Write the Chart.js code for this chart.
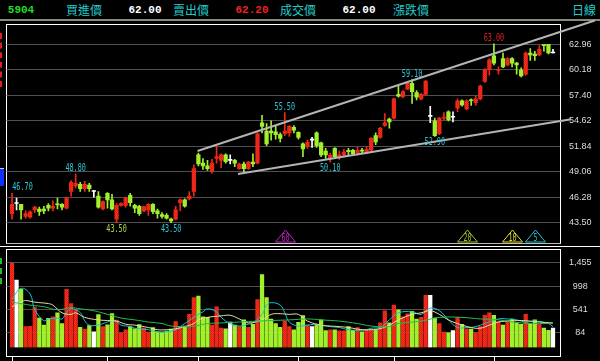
<!DOCTYPE html>
<html>
<head>
<meta charset="utf-8">
<script src="https://cdn.jsdelivr.net/npm/chart.js@4.4.1/dist/chart.umd.min.js"></script>
<style>
body{margin:0;background:#000;width:600px;height:361px;overflow:hidden;position:relative;font-family:"Noto Sans CJK TC",sans-serif}
canvas{position:absolute;left:0;top:0}
.hd{position:absolute;top:0;left:0;width:600px;height:19px;border-bottom:2px solid #8c8878}
.t{position:absolute;top:10px;transform:translate(-50%,-50%);font-size:12px;white-space:nowrap;line-height:1;color:#22cccc}
.n{font-family:"Liberation Mono",monospace;font-size:11px;font-weight:bold;color:#fff}
.box{position:absolute;border:1px solid #fff}
.ln{position:absolute}
</style>
</head>
<body>
<div class="hd"></div>
<span class="t n" style="left:21px;color:#22dd22">5904</span>
<span class="t" style="left:84px">買進價</span>
<span class="t n" style="left:145px">62.00</span>
<span class="t" style="left:191px">賣出價</span>
<span class="t n" style="left:252px;color:#ee2222">62.20</span>
<span class="t" style="left:298px">成交價</span>
<span class="t n" style="left:359px">62.00</span>
<span class="t" style="left:411px">漲跌價</span>
<span class="t" style="left:584px">日線</span>

<div class="box" style="left:6px;top:24px;width:553px;height:218px;border-bottom-color:#bbb"></div>
<div class="ln" style="left:0;top:246px;width:600px;height:1px;background:#fff"></div>
<div class="box" style="left:6px;top:249px;width:553px;height:106px"></div>
<div class="ln" style="left:0;top:33px;height:54px;border-left:2px dashed #e02020"></div>
<div class="ln" style="left:0;top:168px;width:4px;height:17px;background:#1030ff;border-top:1px solid #ccc"></div>
<div class="ln" style="left:0;top:258px;height:26px;border-left:2px dashed #20c020"></div>

<canvas id="price" width="600" height="361"></canvas>
<canvas id="vol" width="600" height="361"></canvas>
<script>
// daily candles
var opens = [44.5,45.6,45.5,44.2,44.1,44.9,45.0,45.0,45.4,45.1, 45.55,45.5,45.1,46.9,47.5,47.7,47.2,47.6,46.9,46.4,
  45.0,46.7,46.0,43.9,45.4,45.4,46.5,45.4,45.3,44.8, 44.9,45.5,44.8,44.4,44.3,43.9,43.9,45.7,46.0,46.1,
  46.9,50.9,50.0,49.7,49.1,50.5,50.3,50.9,50.3,50.3, 49.4,49.9,49.4,50.1,50.0,54.4,53.5,53.5,53.4,53.1,
  53.2,53.3,53.9,53.35,52.1,51.9,52.5,53.3,52.2,51.3, 50.5,51.6,50.6,50.9,51.4,51.4,51.15,51.4,51.2,51.4,
  53.0,52.8,54.1,54.8,54.9,57.5,57.25,58.05,58.7,57.7, 57.0,57.5,55.1,54.6,53.2,54.9,55.6,55.0,56.0,56.8,
  55.9,56.9,56.6,57.0,58.9,60.2,61.7,60.1,61.4,60.7, 61.4,60.9,60.15,59.7,62.0,61.9,61.8,62.9,62.95,62.0];
var highs = [46.7,46.2,45.5,44.8,44.8,45.3,45.2,45.3,45.6,45.9, 46.2,45.6,46.3,48.1,48.8,47.9,48.0,47.8,47.0,46.9,
  45.9,46.8,46.6,45.6,45.7,46.3,46.7,45.5,45.4,45.3, 45.6,45.6,45.0,44.6,44.5,44.0,45.3,46.1,46.1,46.9,
  49.8,51.1,50.5,50.3,50.4,51.9,51.0,51.0,50.9,50.4, 50.0,50.1,50.2,51.0,53.3,55.2,54.3,54.6,54.1,53.3,
  55.5,54.1,54.1,53.4,52.2,52.5,52.8,53.4,52.3,51.6, 51.1,51.7,51.3,51.5,51.6,51.5,51.8,51.6,51.8,52.8,
  53.3,53.9,55.4,54.9,57.1,58.4,57.9,58.8,59.1,57.9, 57.6,59.0,56.2,54.9,55.0,55.5,55.7,55.6,57.0,56.9,
  56.9,57.0,57.3,58.5,60.3,61.4,63.0,60.5,62.0,61.5, 61.5,61.0,60.4,62.1,62.5,62.2,62.8,62.9,62.96,62.4];
var lows = [43.9,44.9,43.9,44.0,44.0,44.6,44.3,44.5,44.8,44.8, 45.0,44.9,45.0,46.4,47.3,46.9,46.9,46.9,46.3,45.1,
  44.9,45.1,44.9,43.5,45.3,45.2,45.3,44.6,44.3,44.7, 44.3,44.5,44.0,44.0,43.9,43.5,43.8,44.8,45.2,46.0,
  46.4,49.7,49.3,49.2,48.9,50.0,49.5,50.0,49.9,49.6, 49.3,49.0,49.3,49.6,49.9,53.3,51.9,52.5,52.6,52.3,
  53.0,52.9,53.3,52.6,50.7,51.6,51.7,51.7,50.7,50.5, 50.1,50.5,50.4,50.7,50.9,50.8,50.9,51.0,51.0,51.3,
  52.0,52.7,54.0,53.8,54.8,57.2,57.1,58.0,56.5,56.9, 56.9,57.4,54.4,52.9,53.1,54.7,54.6,54.5,55.6,56.2,
  55.8,56.3,56.3,56.9,58.8,59.6,60.7,59.7,60.4,60.6, 60.5,59.7,59.4,59.6,61.2,61.2,61.7,62.2,61.9,62.0];
var closes = [45.5,45.6,44.9,44.5,44.7,45.2,44.7,44.8,45.1,45.3, 45.45,45.2,46.2,47.9,47.8,47.2,47.7,47.2,46.9,45.2,
  45.8,46.0,45.0,45.4,45.6,46.2,45.7,45.1,44.5,45.25, 45.5,44.7,44.5,44.2,44.0,43.7,44.9,46.0,45.3,46.4,
  49.4,49.9,49.7,49.4,50.0,50.7,50.9,50.15,50.3,50.0, 49.9,49.4,50.1,49.9,53.2,54.0,52.1,53.3,53.1,52.7,
  53.5,54.0,53.6,52.8,51.55,52.3,52.5,51.9,50.9,50.9, 50.85,50.7,50.9,51.2,51.25,51.0,51.4,51.3,51.5,52.7,
  52.3,53.8,54.4,54.5,57.0,57.3,57.8,58.7,57.8,57.2, 57.5,58.95,55.1,53.0,54.9,55.0,54.7,55.0,56.8,56.35,
  56.8,56.8,57.0,58.4,60.2,61.25,60.9,60.2,60.5,61.4, 60.9,60.7,59.5,62.0,61.8,61.7,62.4,62.8,62.0,62.0];
var vols = [1450,1119,938,205,210,577,373,234,365,397, 476,265,938,656,540,192,156,225,102,440,
  205,240,463,333,84,144,205,162,247,174, 96,187,102,96,115,156,306,205,216,445,
  776,806,397,385,234,595,174,162,295,234, 205,337,192,252,734,1227,776,355,265,192,
  313,205,144,290,420,234,205,234,337,126, 144,144,120,120,205,133,185,102,150,144,
  144,277,517,277,626,536,397,458,505,355, 385,819,819,373,265,96,84,126,385,252,
  162,156,84,205,427,476,427,306,234,320, 355,277,252,445,265,337,252,174,133,174];

// volume moving averages [day, value]
var ma5 = [[0,747],[2,956],[4,843],[5,540],[7,319],[8,355],[10,368],[11,355],[12,481],[13,560],[15,481],[16,319],[17,234],
  [19,234],[20,265],[22,319],[23,301],[24,234],[26,205],[27,174],[30,144],[32,102],[34,102],[36,144],[38,265],[41,445],
  [42,494],[43,554],[45,494],[46,386],[48,265],[50,216],[52,252],[53,277],[55,445],[56,626],[57,675],[59,626],[60,476],
  [61,295],[63,216],[65,234],[67,252],[68,234],[70,205],[72,187],[74,144],[76,133],[78,144],[79,174],[81,192],[83,337],
  [85,476],[88,494],[90,445],[92,566],[94,517],[96,337],[98,187],[100,187],[102,205],[104,265],[107,355],[109,355],
  [111,337],[113,295],[115,313],[118,265],[119,205]];
var ma10 = [[0,595],[2,685],[3,716],[5,685],[8,657],[9,626],[11,476],[13,445],[14,476],[16,386],[19,337],[21,324],[23,313],
  [25,252],[27,234],[30,187],[32,144],[34,144],[36,162],[38,205],[40,265],[41,337],[43,386],[46,415],[48,427],[50,355],
  [52,277],[55,337],[57,445],[59,458],[61,445],[63,445],[65,313],[68,234],[70,216],[72,205],[74,187],[77,144],[79,144],
  [81,165],[83,234],[85,337],[88,445],[90,476],[92,517],[94,445],[96,337],[98,265],[101,187],[103,174],[105,234],
  [107,295],[109,313],[112,324],[114,313],[116,295],[119,277]];
var ma20 = [[0,685],[2,657],[4,626],[7,595],[10,536],[13,577],[15,554],[18,517],[21,445],[24,373],[27,337],[30,295],
  [33,265],[35,216],[39,205],[41,230],[43,265],[46,277],[50,295],[54,313],[57,324],[61,337],[65,355],[68,337],[72,313],
  [76,265],[79,216],[83,205],[85,265],[90,313],[94,386],[99,386],[103,355],[107,337],[112,277],[116,265],[119,265]];

var priceTicks = [43.50, 46.28, 49.06, 51.84, 54.62, 57.40, 60.18, 62.96];
var volTicks = [84, 541, 998, 1455];

// marked highs / lows
var markIdx = [0, 14, 23, 35, 60, 70, 88, 93, 106];
var markSide = ['hi', 'hi', 'lo', 'lo', 'hi', 'lo', 'hi', 'lo', 'hi'];
var markColor = ['#30c8d8', '#30c8d8', '#b0d840', '#30c8d8', '#30c8d8', '#30c8d8', '#30c8d8', '#30c8d8', '#e02020'];

// trend lines [day, price]
var upperLine = [[40.8, 51.32], [128.2, 65.55]];
var lowerLine = [[49.7, 48.81], [123.0, 54.78]];

// moving average start markers
var triIdx = [60, 100, 110, 115];
var triText = ['60', '20', '10', '5'];
var triColor = ['#c020c0', '#a0c820', '#e0e020', '#20c0d0'];

var monthIdx = [0, 21, 41, 63, 84, 106];

var X_MIN = -1.21, X_MAX = 120.54;
var GREEN = '#a2f02c';

function makeRed(ctx) {
  var c = document.createElement('canvas');
  c.width = 2; c.height = 2;
  var g = c.getContext('2d');
  g.fillStyle = '#ff2c1c'; g.fillRect(0, 0, 2, 2);
  g.fillStyle = '#dc2214'; g.fillRect(0, 0, 1, 1); g.fillRect(1, 1, 1, 1);
  return ctx.createPattern(c, 'repeat');
}

function narrowText(ctx, txt, x, y, color) {
  ctx.save();
  ctx.translate(x, y);
  ctx.scale(0.68, 1);
  ctx.fillStyle = color;
  ctx.font = '10px "DejaVu Sans Mono"';
  ctx.textAlign = 'center';
  ctx.textBaseline = 'middle';
  ctx.fillText(txt, 0, 0);
  ctx.restore();
}

var pctx = document.getElementById('price').getContext('2d');
var vctx = document.getElementById('vol').getContext('2d');
var RED = makeRed(pctx);
var RED2 = makeRed(vctx);

var days = opens.map(function (v, i) { return i; });
function colorOf(i, red) {
  if (closes[i] > opens[i]) return red;
  if (closes[i] < opens[i]) return GREEN;
  return '#ffffff';
}
var candleColors = days.map(function (i) { return colorOf(i, RED); });
var volColors = days.map(function (i) { return colorOf(i, RED2); });

var tickFont = { family: 'Liberation Sans', size: 9, lineHeight: 1 };

var priceExtras = {
  id: 'priceExtras',
  afterDatasetsDraw: function (chart) {
    var ctx = chart.ctx, xs = chart.scales.x, ys = chart.scales.y;
    ctx.save();
    ctx.strokeStyle = '#b4b4b4';
    ctx.lineWidth = 2;
    [upperLine, lowerLine].forEach(function (l) {
      ctx.beginPath();
      ctx.moveTo(xs.getPixelForValue(l[0][0]), ys.getPixelForValue(l[0][1]));
      ctx.lineTo(xs.getPixelForValue(l[1][0]), ys.getPixelForValue(l[1][1]));
      ctx.stroke();
    });
    markIdx.forEach(function (d, k) {
      var v = markSide[k] === 'hi' ? highs[d] : lows[d];
      var x = Math.max(xs.getPixelForValue(d), chart.chartArea.left + 16);
      var y = ys.getPixelForValue(v) + (markSide[k] === 'hi' ? -5.5 : 6.3);
      narrowText(ctx, v.toFixed(2), x, y, markColor[k]);
    });
    var b = chart.chartArea.bottom - 1;
    triIdx.forEach(function (d, k) {
      var x = Math.round(xs.getPixelForValue(d)) + 0.5;
      ctx.strokeStyle = triColor[k];
      ctx.lineWidth = 1;
      ctx.beginPath();
      ctx.moveTo(x - 10, b); ctx.lineTo(x, b - 12); ctx.lineTo(x + 10, b); ctx.closePath();
      ctx.stroke();
      narrowText(ctx, triText[k], x, b - 4, triColor[k]);
    });
    ctx.restore();
  }
};

new Chart(pctx, {
  type: 'bar',
  data: {
    datasets: [
      { data: days.map(function (i) { return { x: i, y: [lows[i], highs[i]] }; }),
        backgroundColor: candleColors, barThickness: 1, grouped: false, order: 2 },
      { data: days.map(function (i) { return { x: i, y: [opens[i], closes[i]] }; }),
        backgroundColor: candleColors, barThickness: 3.6, minBarLength: 1, grouped: false, order: 1 }
    ]
  },
  options: {
    animation: false, responsive: false,
    layout: { padding: { left: 6.5, top: 24.7, right: 0, bottom: 118 } },
    plugins: { legend: { display: false }, tooltip: { enabled: false } },
    scales: {
      x: { type: 'linear', min: X_MIN, max: X_MAX, offset: false, display: false },
      y: {
        position: 'right', min: 41.29, max: 65.09,
        afterBuildTicks: function (s) { s.ticks = priceTicks.map(function (v) { return { value: v }; }); },
        afterFit: function (s) { s.width = 40; },
        grid: { color: '#505050', drawTicks: false },
        border: { display: false },
        ticks: { color: '#dddddd', font: tickFont, crossAlign: 'center', padding: 9,
          callback: function (v) { return v.toFixed(2); } }
      }
    }
  },
  plugins: [priceExtras]
});

var volExtras = {
  id: 'volExtras',
  afterDraw: function (chart) {
    var ctx = chart.ctx, xs = chart.scales.x;
    ctx.save();
    ctx.strokeStyle = '#ffffff';
    ctx.lineWidth = 1;
    monthIdx.forEach(function (d) {
      var x = Math.round(xs.getPixelForValue(d)) + 0.5;
      ctx.beginPath(); ctx.moveTo(x, 356); ctx.lineTo(x, 361); ctx.stroke();
    });
    ctx.restore();
  }
};

var VOL_MIN = -205, VOL_MAX = 1722;
function maSet(pts, color) {
  return { type: 'line', data: pts.map(function (p) { return { x: p[0], y: p[1] }; }),
    borderColor: color, borderWidth: 1, pointRadius: 0, tension: 0.4, order: 1 };
}

new Chart(vctx, {
  type: 'bar',
  data: {
    datasets: [
      maSet(ma20, '#20c050'),
      maSet(ma10, '#e8e0a0'),
      maSet(ma5, '#10c8d8'),
      { type: 'bar', data: days.map(function (i) { return { x: i, y: [VOL_MIN, vols[i]] }; }),
        backgroundColor: volColors, barThickness: 3.6, order: 2 }
    ]
  },
  options: {
    animation: false, responsive: false,
    layout: { padding: { left: 6.5, top: 249.3, right: 0, bottom: 5 } },
    plugins: { legend: { display: false }, tooltip: { enabled: false } },
    scales: {
      x: { type: 'linear', min: X_MIN, max: X_MAX, offset: false, display: false },
      y: {
        position: 'right', min: VOL_MIN, max: VOL_MAX,
        afterBuildTicks: function (s) { s.ticks = volTicks.map(function (v) { return { value: v }; }); },
        afterFit: function (s) { s.width = 40; },
        grid: { color: '#505050', drawTicks: false },
        border: { display: false },
        ticks: { color: '#dddddd', font: tickFont, crossAlign: 'center', padding: 9,
          callback: function (v) { return v.toLocaleString('en-US'); } }
      }
    }
  },
  plugins: [volExtras]
});
</script>
</body>
</html>
